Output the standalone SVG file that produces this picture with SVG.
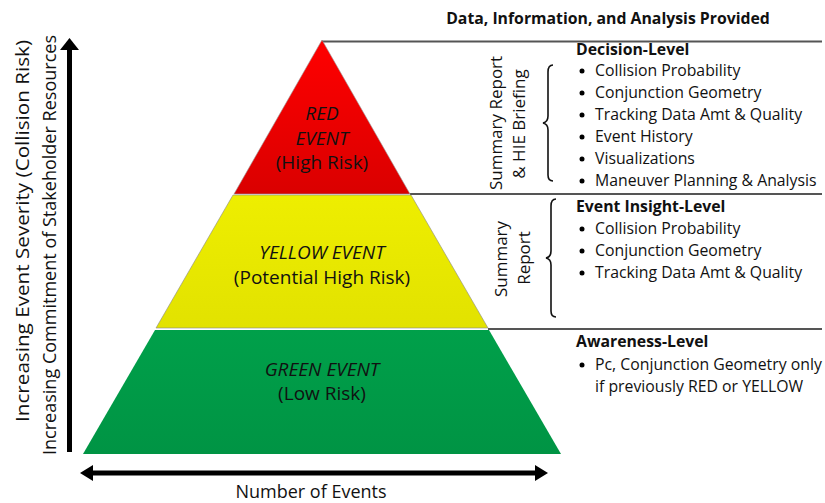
<svg xmlns="http://www.w3.org/2000/svg" width="825" height="503" viewBox="0 0 825 503">
<defs>
<linearGradient id="gRed" x1="0" y1="0" x2="0" y2="1"><stop offset="0" stop-color="#FF0000"/><stop offset="1" stop-color="#DA0000"/></linearGradient>
<linearGradient id="gYel" x1="0" y1="0" x2="0" y2="1"><stop offset="0" stop-color="#EEEE00"/><stop offset="1" stop-color="#E2E200"/></linearGradient>
<linearGradient id="gGrn" x1="0" y1="0" x2="0" y2="1"><stop offset="0" stop-color="#00A04A"/><stop offset="1" stop-color="#009444"/></linearGradient>
</defs>
<style>
text{font-family:"Open Sans","Noto Sans","Liberation Sans",sans-serif;fill:#111;}
.t{font-size:15.8px;}
.b{font-size:15.8px;font-weight:bold;}
.p{font-size:19px;text-anchor:middle;}
.i{font-style:italic;}
.side{font-size:18px;text-anchor:middle;}
.rot{font-size:17px;text-anchor:middle;}
.div{stroke:#555;stroke-width:2;fill:none;}
.brace{stroke:#111;stroke-width:1.6;fill:none;}
</style>
<g id="dividers">
<line class="div" x1="322" y1="41.5" x2="822" y2="41.5"/>
<line class="div" x1="410" y1="194" x2="822" y2="194"/>
<line class="div" x1="488" y1="329" x2="822" y2="329"/>
</g>
<g id="red-event">
<polygon points="322,40 410,194 234,194" fill="url(#gRed)" stroke="#999" stroke-width="0.6"/>
<text class="p i" x="322" y="120">RED</text>
<text class="p i" x="322" y="145">EVENT</text>
<text class="p" x="322" y="169">(High Risk)</text>
</g>
<g id="yellow-event">
<polygon points="233,195 411,195 488,328 156,328" fill="url(#gYel)" stroke="#888" stroke-width="0.6"/>
<text class="p i" x="322" y="259">YELLOW EVENT</text>
<text class="p" x="322" y="284">(Potential High Risk)</text>
</g>
<g id="green-event">
<polygon points="155,330 489,330 561,454 83,454" fill="url(#gGrn)"/>
<text class="p i" x="322" y="376">GREEN EVENT</text>
<text class="p" x="322" y="400">(Low Risk)</text>
</g>
<g id="axes">
<rect x="67" y="48" width="5" height="404" fill="#000"/>
<polygon points="69.5,38 79,50 60,50" fill="#000"/>
<rect x="90" y="470.5" width="448" height="5" fill="#000"/>
<polygon points="80,473 93,465 93,481" fill="#000"/>
<polygon points="548,473 535,465 535,481" fill="#000"/>
<text class="side" x="311" y="498" font-size="19">Number of Events</text>
<text class="side" transform="translate(29,231) rotate(-90)" textLength="382" lengthAdjust="spacingAndGlyphs">Increasing Event Severity (Collision Risk)</text>
<text class="side" transform="translate(56,245) rotate(-90)" textLength="420" lengthAdjust="spacingAndGlyphs">Increasing Commitment of Stakeholder Resources</text>
</g>
<g id="title">
<text class="b" x="608" y="24" text-anchor="middle">Data, Information, and Analysis Provided</text>
</g>
<g id="decision-level">
<text class="rot" transform="translate(502,123) rotate(-90)">Summary Report</text>
<text class="rot" transform="translate(525,124) rotate(-90)">&amp; HIE Briefing</text>
<path class="brace" d="M553,65 Q548,65 548,72 L548,116 Q548,122 543,123 Q548,124 548,130 L548,175 Q548,181 553,181"/>
<text class="b" x="576" y="55">Decision-Level</text>
<circle cx="582" cy="71" r="2.5"/><text class="t" x="595" y="76">Collision Probability</text>
<circle cx="582" cy="93" r="2.5"/><text class="t" x="595" y="98">Conjunction Geometry</text>
<circle cx="582" cy="115" r="2.5"/><text class="t" x="595" y="120">Tracking Data Amt &amp; Quality</text>
<circle cx="582" cy="137" r="2.5"/><text class="t" x="595" y="142">Event History</text>
<circle cx="582" cy="159" r="2.5"/><text class="t" x="595" y="164">Visualizations</text>
<circle cx="582" cy="181" r="2.5"/><text class="t" x="595" y="186">Maneuver Planning &amp; Analysis</text>
</g>
<g id="event-insight-level">
<text class="rot" transform="translate(507,259) rotate(-90)">Summary</text>
<text class="rot" transform="translate(530,258) rotate(-90)">Report</text>
<path class="brace" d="M556,199 Q551,199 551,206 L551,251 Q551,257 546,258 Q551,259 551,265 L551,311 Q551,317 556,317"/>
<text class="b" x="576" y="212">Event Insight-Level</text>
<circle cx="582" cy="229" r="2.5"/><text class="t" x="595" y="234">Collision Probability</text>
<circle cx="582" cy="251" r="2.5"/><text class="t" x="595" y="256">Conjunction Geometry</text>
<circle cx="582" cy="273" r="2.5"/><text class="t" x="595" y="278">Tracking Data Amt &amp; Quality</text>
</g>
<g id="awareness-level">
<text class="b" x="576" y="347">Awareness-Level</text>
<circle cx="582" cy="365" r="2.5"/><text class="t" x="595" y="370">Pc, Conjunction Geometry only</text>
<text class="t" x="595" y="392">if previously RED or YELLOW</text>
</g>
</svg>
